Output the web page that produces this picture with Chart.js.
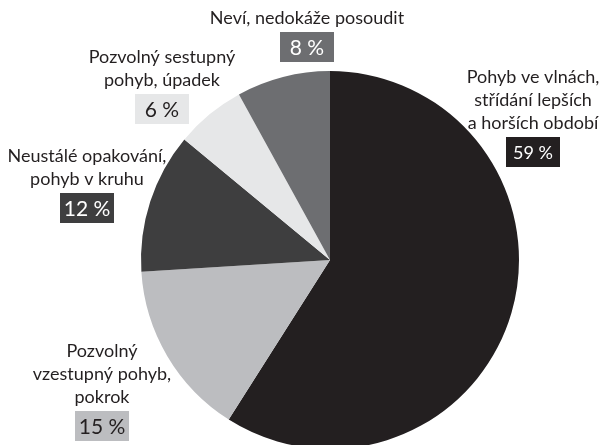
<!DOCTYPE html>
<html>
<head>
<meta charset="utf-8">
<script src="https://cdn.jsdelivr.net/npm/chart.js@4"></script>
<style>
  html, body { margin: 0; padding: 0; background: #fff; overflow: hidden; }
  #wrap { position: relative; width: 603px; height: 460px; }
</style>
</head>
<body>
<div id="wrap"><canvas id="chart"></canvas></div>
<script>
// data
var categories = [
    'Pohyb ve vlnách, střídání lepších a horších období',
    'Pozvolný vzestupný pohyb, pokrok',
    'Neustálé opakování, pohyb v kruhu',
    'Pozvolný sestupný pohyb, úpadek',
    'Neví, nedokáže posoudit'
];
var values = [59, 15, 12, 6, 8];
var labelLines = [
    ['Pohyb ve vlnách,', 'střídání lepších', 'a horších období'],
    ['Pozvolný', 'vzestupný pohyb,', 'pokrok'],
    ['Neustálé opakování,', 'pohyb v kruhu'],
    ['Pozvolný sestupný', 'pohyb, úpadek'],
    ['Neví, nedokáže posoudit']
];

// styles
var sliceColors = ['#231f20', '#bcbdc0', '#3e3e3f', '#e6e7e8', '#6d6e71'];
var boxTextColors = ['#ffffff', '#231f20', '#ffffff', '#231f20', '#ffffff'];
var pctFontSize = [18, 21, 21, 21, 21];
// label block placement: x = text centre, y = baseline of first line
var labelPos = [
    { x: 533, y: 83 },
    { x: 102, y: 357 },
    { x: 87, y: 162 },
    { x: 162, y: 63 },
    { x: 307, y: 24 }
];
var LINE_H = 23;
var BOX_W = 54, BOX_H = 30;
var FONT = 'Lato, "Noto Sans", sans-serif';

var labelPlugin = {
    id: 'outerLabels',
    afterDraw: function(chart) {
        var ctx = chart.ctx;
        var ds = chart.data.datasets[0];
        ctx.save();
        ctx.textAlign = 'center';
        for (var i = 0; i < ds.data.length; i++) {
            var p = labelPos[i];
            var lines = labelLines[i];
            ctx.font = '18px ' + FONT;
            ctx.textBaseline = 'alphabetic';
            ctx.fillStyle = '#231f20';
            for (var j = 0; j < lines.length; j++) {
                ctx.fillText(lines[j], p.x, p.y + j * LINE_H);
            }
            var by = p.y + (lines.length - 1) * LINE_H + 8;
            ctx.fillStyle = ds.backgroundColor[i];
            ctx.fillRect(p.x - BOX_W / 2, by, BOX_W, BOX_H);
            ctx.font = pctFontSize[i] + 'px ' + FONT;
            ctx.textBaseline = 'middle';
            ctx.fillStyle = boxTextColors[i];
            ctx.fillText(ds.data[i] + ' %', p.x, by + BOX_H / 2 + 1);
        }
        ctx.restore();
    }
};

var ctx = document.getElementById('chart').getContext('2d');
var myChart = new Chart(ctx, {
    type: 'pie',
    data: {
        labels: categories,
        datasets: [{
            data: values,
            backgroundColor: sliceColors,
            borderWidth: 0
        }]
    },
    options: {
        responsive: true,
        maintainAspectRatio: false,
        animation: false,
        layout: {
            padding: { left: 141, right: 84, top: 71, bottom: 11 }
        },
        plugins: {
            legend: { display: false },
            tooltip: { enabled: false }
        }
    },
    plugins: [labelPlugin]
});
</script>
</body>
</html>
